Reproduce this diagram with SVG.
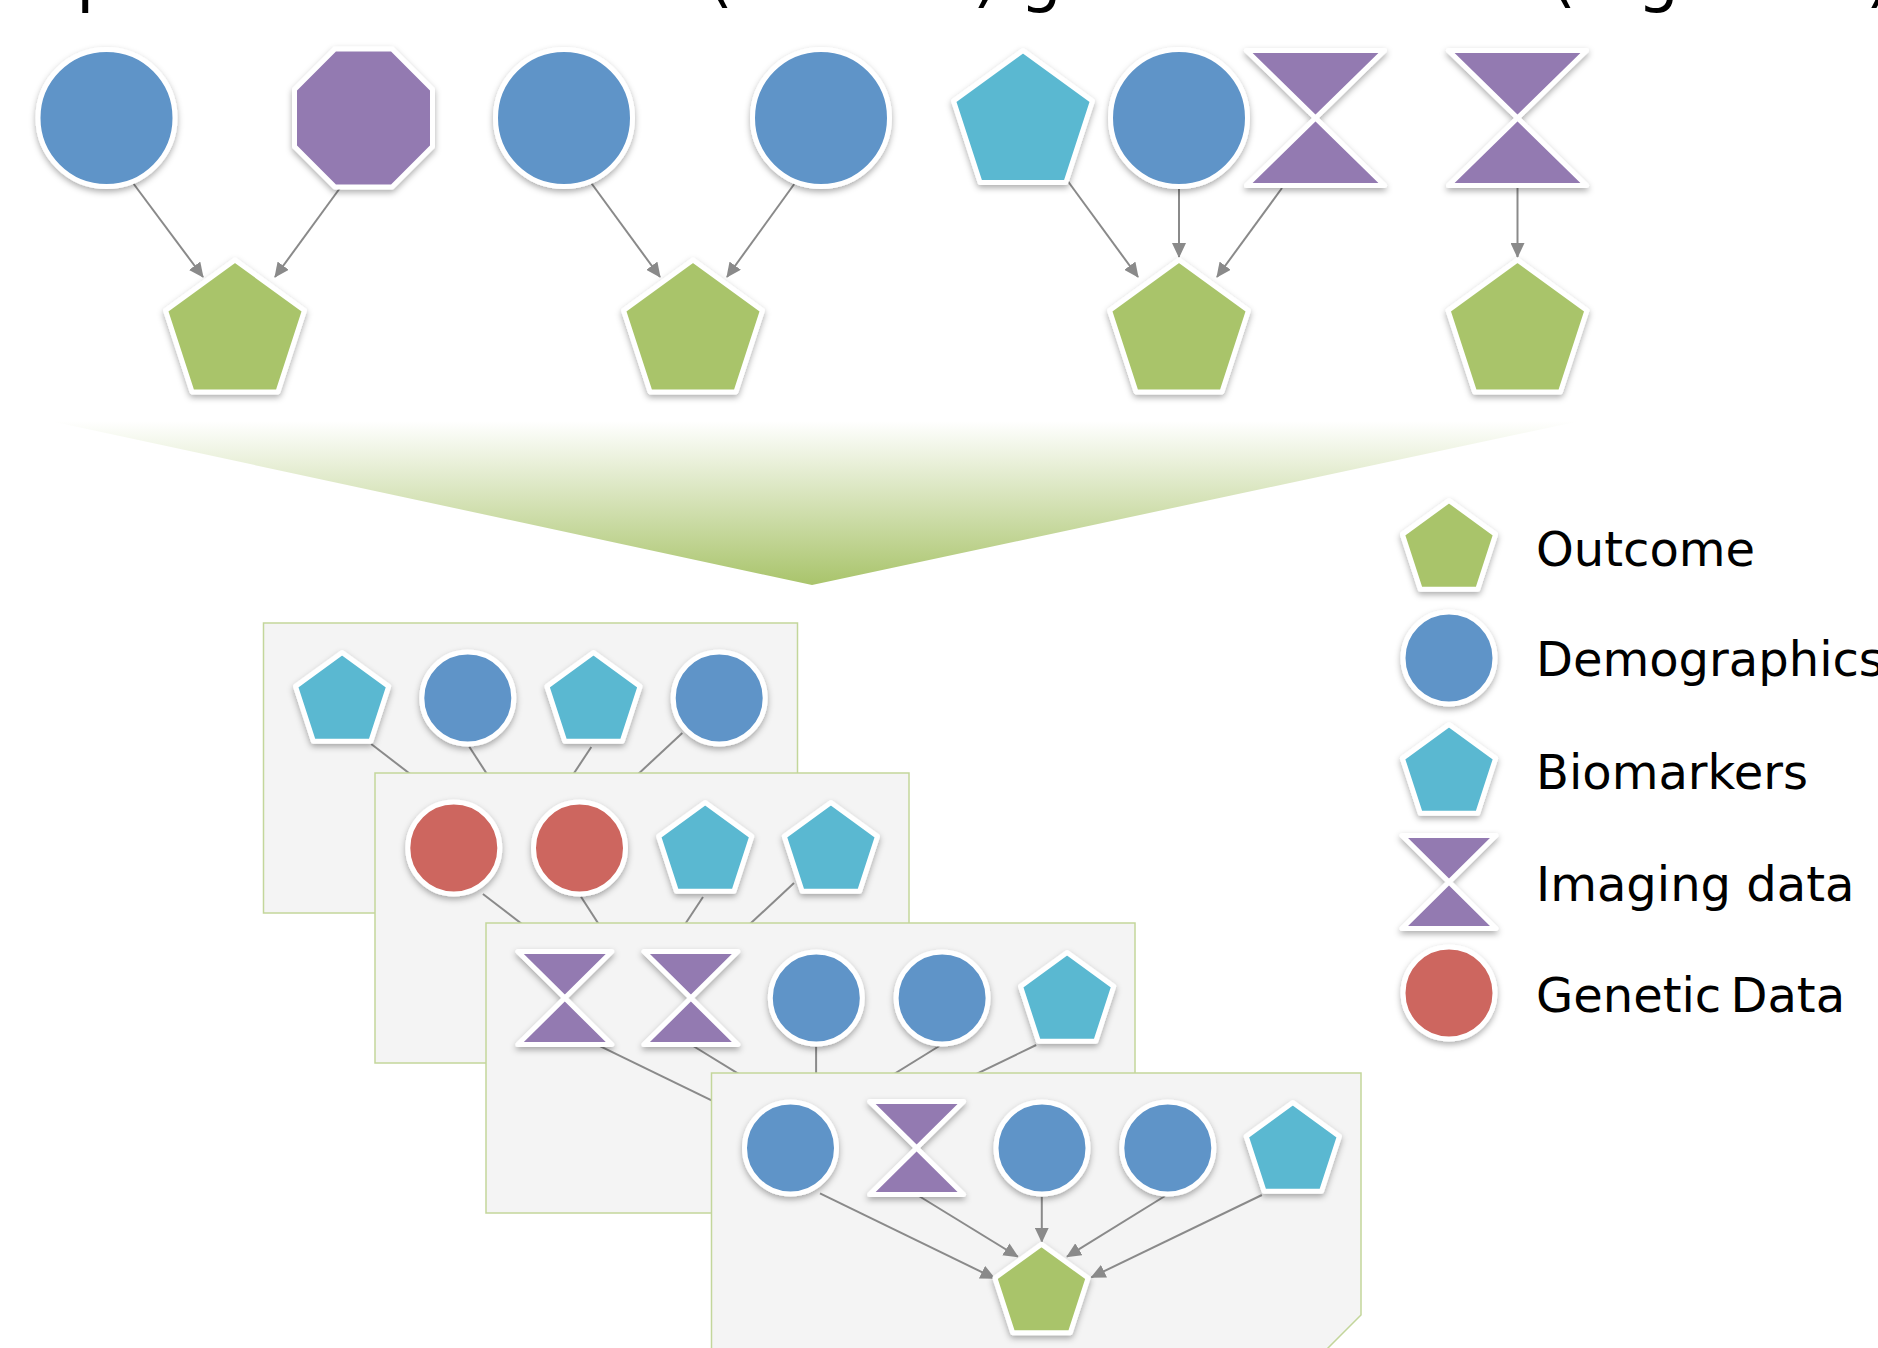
<svg xmlns="http://www.w3.org/2000/svg" width="1878" height="1348" viewBox="0 0 1878 1348">
<style>
.n{stroke:#ffffff;stroke-width:5;stroke-linejoin:round;filter:url(#sh)}
.blue{fill:#5f94c8}.purple{fill:#937ab1}.green{fill:#a9c46b}.cyan{fill:#5ab8d1}.red{fill:#cd665e}
.edge{stroke:#8a8a8a;stroke-width:2;fill:none}
.arr{marker-end:url(#ah)}
.panel{fill:#f4f4f4;stroke:#c3d69b;stroke-width:1.5}
.lg{font-family:"DejaVu Sans",Verdana,sans-serif;font-size:48px;fill:#000000}
.title{font-family:"DejaVu Sans",Verdana,sans-serif;font-size:66px;fill:#000000}
</style>
<defs>
<filter id="sh" x="-25%" y="-25%" width="150%" height="155%">
<feDropShadow dx="0" dy="3" stdDeviation="3" flood-color="#000000" flood-opacity="0.32"/>
</filter>
<marker id="ah" viewBox="0 0 15 14" refX="14" refY="7" markerWidth="15" markerHeight="14" markerUnits="userSpaceOnUse" orient="auto">
<path d="M0,0 L15,7 L0,14 z" fill="#8a8a8a"/>
</marker>
<linearGradient id="fan" gradientUnits="userSpaceOnUse" x1="0" y1="421" x2="0" y2="585">
<stop offset="0" stop-color="#a9c46b" stop-opacity="0"/>
<stop offset="1" stop-color="#a9c46b" stop-opacity="1"/>
</linearGradient>
<polygon id="pL" points="0,-73 69.43,-22.56 42.91,59.06 -42.91,59.06 -69.43,-22.56"/>
<polygon id="pS" points="0,-49 46.6,-15.14 28.8,39.64 -28.8,39.64 -46.6,-15.14"/>
<polygon id="hL" points="-69,-67.5 69,-67.5 0,0 69,67.5 -69,67.5 0,0"/>
<polygon id="hS" points="-47,-46.5 47,-46.5 0,0 47,46.5 -47,46.5 0,0"/>
<polygon id="oL" points="28.58,-69 69,-28.58 69,28.58 28.58,69 -28.58,69 -69,28.58 -69,-28.58 -28.58,-69"/>
</defs>

<text class="title" y="-1"><tspan x="15">Input: several</tspan><tspan x="707">(causal</tspan><tspan x="973">)</tspan><tspan x="1020">gathered from</tspan><tspan x="1550">(e.g. DAG)</tspan></text>

<!-- top row connectors -->
<g id="top-edges">
<line class="edge arr" x1="133" y1="183" x2="203" y2="277"/>
<line class="edge arr" x1="340" y1="188" x2="275" y2="277"/>
<line class="edge arr" x1="589" y1="180" x2="660" y2="277"/>
<line class="edge arr" x1="795" y1="183" x2="727" y2="277"/>
<line class="edge arr" x1="1067" y1="180" x2="1138" y2="277"/>
<line class="edge arr" x1="1179" y1="188" x2="1179" y2="257"/>
<line class="edge arr" x1="1282" y1="188" x2="1217" y2="277"/>
<line class="edge arr" x1="1517.5" y1="188" x2="1517.5" y2="257"/>
</g>

<!-- top row nodes -->
<g id="g1-demo"><circle class="n blue" cx="106.5" cy="118" r="68.5"/></g>
<g id="g1-oct"><use href="#oL" x="363.5" y="118" class="n purple"/></g>
<g id="g1-out"><use href="#pL" x="235" y="333" class="n green"/></g>
<g id="g2-demo1"><circle class="n blue" cx="564" cy="118" r="68.5"/></g>
<g id="g2-demo2"><circle class="n blue" cx="821" cy="118" r="68.5"/></g>
<g id="g2-out"><use href="#pL" x="693" y="333" class="n green"/></g>
<g id="g3-bio"><use href="#pL" x="1023" y="123.5" class="n cyan"/></g>
<g id="g3-demo"><circle class="n blue" cx="1179" cy="118" r="68.5"/></g>
<g id="g3-img"><use href="#hL" x="1315.5" y="118" class="n purple"/></g>
<g id="g3-out"><use href="#pL" x="1179" y="333" class="n green"/></g>
<g id="g4-img"><use href="#hL" x="1517.5" y="118" class="n purple"/></g>
<g id="g4-out"><use href="#pL" x="1517.5" y="333" class="n green"/></g>

<!-- merge funnel -->
<polygon id="funnel" points="50,421 1580,421 812,585" fill="url(#fan)"/>

<!-- panel 1 -->
<g id="panel1">
<path class="panel" d="M263.5,623 H797.5 V865 L749.5,913 H263.5 Z"/>
<g id="panel1-edges">
<line class="edge" x1="371.2" y1="744" x2="455" y2="808.5"/>
<line class="edge" x1="469.3" y1="746.7" x2="506.7" y2="804.6"/>
<line class="edge" x1="591.3" y1="747" x2="553.5" y2="804.2"/>
<line class="edge" x1="682.3" y1="733" x2="587.7" y2="821"/>
</g>
<g id="p1-n1"><use href="#pS" x="342.1" y="701.5" class="n cyan"/></g>
<g id="p1-n2"><circle class="n blue" cx="467.8" cy="698" r="46"/></g>
<g id="p1-n3"><use href="#pS" x="593.5" y="701.5" class="n cyan"/></g>
<g id="p1-n4"><circle class="n blue" cx="719.2" cy="698" r="46"/></g>
</g>

<!-- panel 2 -->
<g id="panel2">
<path class="panel" d="M375,773 H909 V1015 L861,1063 H375 Z"/>
<g id="panel2-edges">
<line class="edge" x1="482.9" y1="894" x2="566.7" y2="958.5"/>
<line class="edge" x1="581" y1="896.7" x2="618.4" y2="954.6"/>
<line class="edge" x1="703" y1="897" x2="665.2" y2="954.2"/>
<line class="edge" x1="794" y1="883" x2="699.4" y2="971"/>
</g>
<g id="p2-n1"><circle class="n red" cx="453.8" cy="848" r="46"/></g>
<g id="p2-n2"><circle class="n red" cx="579.5" cy="848" r="46"/></g>
<g id="p2-n3"><use href="#pS" x="705.2" y="851.5" class="n cyan"/></g>
<g id="p2-n4"><use href="#pS" x="830.9" y="851.5" class="n cyan"/></g>
</g>

<!-- panel 3 -->
<g id="panel3">
<path class="panel" d="M486,923 H1135 V1165 L1087,1213 H486 Z"/>
<g id="panel3-edges">
<line class="edge" x1="594.3" y1="1043.3" x2="768.9" y2="1128.3"/>
<line class="edge" x1="693.2" y1="1046" x2="792.1" y2="1106.7"/>
<line class="edge" x1="816.1" y1="1046.7" x2="816.1" y2="1091.7"/>
<line class="edge" x1="939.3" y1="1046" x2="841.3" y2="1106.7"/>
<line class="edge" x1="1036.2" y1="1045" x2="865.7" y2="1127.3"/>
</g>
<g id="p3-n1"><use href="#hS" x="564.8" y="998" class="n purple"/></g>
<g id="p3-n2"><use href="#hS" x="690.9" y="998" class="n purple"/></g>
<g id="p3-n3"><circle class="n blue" cx="816.3" cy="998" r="46"/></g>
<g id="p3-n4"><circle class="n blue" cx="942.1" cy="998" r="46"/></g>
<g id="p3-n5"><use href="#pS" x="1067.1" y="1001.5" class="n cyan"/></g>
</g>

<!-- panel 4 -->
<g id="panel4">
<path class="panel" d="M711.5,1073 H1361 V1315 L1313,1363 H711.5 Z"/>
<g id="panel4-edges">
<line class="edge arr" x1="820" y1="1193.3" x2="994.6" y2="1278.3"/>
<line class="edge arr" x1="918.9" y1="1196" x2="1017.8" y2="1256.7"/>
<line class="edge arr" x1="1041.8" y1="1196.7" x2="1041.8" y2="1241.7"/>
<line class="edge arr" x1="1165" y1="1196" x2="1067" y2="1256.7"/>
<line class="edge arr" x1="1261.9" y1="1195" x2="1091.4" y2="1277.3"/>
</g>
<g id="p4-n1"><circle class="n blue" cx="790.5" cy="1148" r="46"/></g>
<g id="p4-n2"><use href="#hS" x="916.6" y="1148" class="n purple"/></g>
<g id="p4-n3"><circle class="n blue" cx="1042" cy="1148" r="46"/></g>
<g id="p4-n4"><circle class="n blue" cx="1167.8" cy="1148" r="46"/></g>
<g id="p4-n5"><use href="#pS" x="1292.8" y="1151.5" class="n cyan"/></g>
<g id="p4-out"><use href="#pS" x="1041.5" y="1293.2" class="n green"/></g>
</g>

<!-- legend -->
<g id="legend">
<g id="lg-outcome"><use href="#pS" x="1449" y="549.5" class="n green"/><text class="lg" x="1536" y="565.7">Outcome</text></g>
<g id="lg-demo"><circle class="n blue" cx="1449" cy="658" r="46"/><text class="lg" x="1536" y="676.4">Demographics</text></g>
<g id="lg-bio"><use href="#pS" x="1449" y="773.5" class="n cyan"/><text class="lg" x="1536" y="789">Biomarkers</text></g>
<g id="lg-img"><use href="#hS" x="1449" y="882" class="n purple"/><text class="lg" x="1536" y="901">Imaging data</text></g>
<g id="lg-gen"><circle class="n red" cx="1449" cy="993" r="46"/><text class="lg" x="1536" y="1012" word-spacing="-6">Genetic Data</text></g>
</g>
</svg>
